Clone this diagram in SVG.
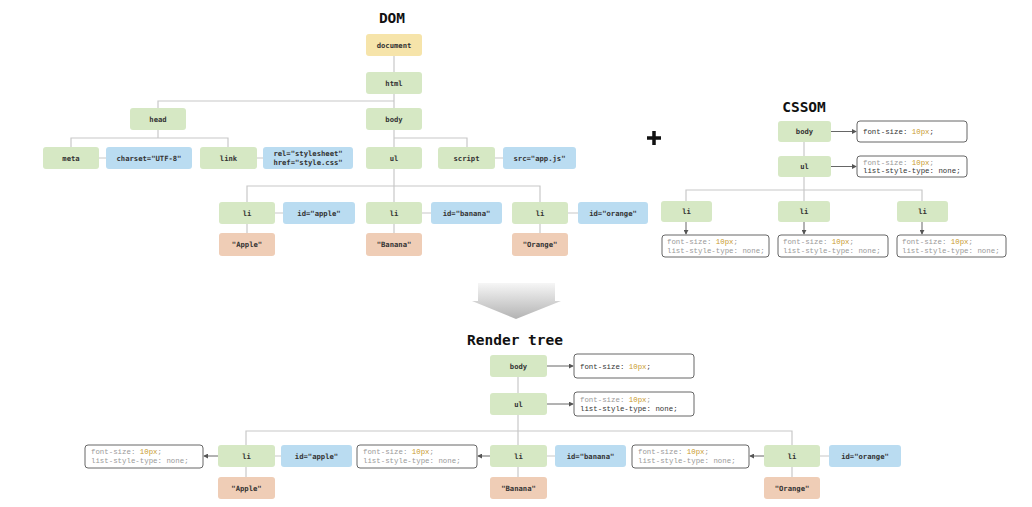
<svg xmlns="http://www.w3.org/2000/svg" width="1032" height="507" viewBox="0 0 1032 507">
<defs>
<style>
.g{fill:#d6e8c4}
.b{fill:#badcf1}
.y{fill:#f6e4aa}
.p{fill:#efcdb6}
.t{font-family:"DejaVu Sans Mono","Liberation Mono",monospace;font-size:7.2px;font-weight:bold;fill:#333;text-anchor:middle}
.h{font-family:"DejaVu Sans Mono","Liberation Mono",monospace;font-size:14.5px;font-weight:bold;fill:#111;text-anchor:middle}
.bx{fill:#fff;stroke:#666;stroke-width:1}
.s{font-family:"Liberation Mono","DejaVu Sans Mono",monospace;font-size:7.4px;fill:#333}
.l{fill:#999}
.v{fill:#c99a2e}
.c{stroke:#c8c8c8;stroke-width:1.2;fill:none}
.a{stroke:#666;stroke-width:1;fill:none;marker-end:url(#arr)}
</style>
<marker id="arr" viewBox="0 0 6 6" refX="5" refY="3" markerWidth="5" markerHeight="5" orient="auto" markerUnits="userSpaceOnUse">
<path d="M0,0 L6,3 L0,6 Z" fill="#555"/>
</marker>
<linearGradient id="grad" x1="0" y1="0" x2="0" y2="1">
<stop offset="0" stop-color="#f6f6f6"/>
<stop offset="1" stop-color="#b3b3b3"/>
</linearGradient>
</defs>
<rect width="1032" height="507" fill="#fff"/>

<!-- Titles -->
<text class="h" x="392" y="23">DOM</text>
<text class="h" x="804" y="112">CSSOM</text>
<text class="h" x="515" y="345">Render tree</text>
<path d="M654,131 V145 M647,138 H661" stroke="#111" stroke-width="3.5"/>
<path d="M478,283 H555 V301 H561 L516,319 L472,301 H478 Z" fill="url(#grad)"/>

<g id="connectors">
<!-- DOM -->
<path class="c" d="M394,56 V72 M394,94 V108 M394,101 H158 V108"/>
<path class="c" d="M158,130 V138 M71,147 V138 H228 V147 M99,158 H106 M257,158 H263"/>
<path class="c" d="M394,130 V147 M394,138 H467 V147 M495,158 H503"/>
<path class="c" d="M394,169 V202 M247,202 V186 H540 V202"/>
<path class="c" d="M275,213 H283 M422,213 H431 M568,213 H578"/>
<path class="c" d="M247,224 V233 M394,224 V233 M540,224 V233"/>
<!-- CSSOM -->
<path class="c" d="M804,142 V156 M804,177 V201 M686,201 V190 H922 V201"/>
<line class="a" x1="831" y1="131.5" x2="856" y2="131.5"/>
<line class="a" x1="831" y1="166.5" x2="856" y2="166.5"/>
<line class="a" x1="686" y1="222" x2="686" y2="234"/>
<line class="a" x1="804" y1="222" x2="804" y2="234"/>
<line class="a" x1="922" y1="222" x2="922" y2="234"/>
<!-- Render tree -->
<path class="c" d="M518,377 V393 M518,415 V445 M246,445 V431 H792 V445"/>
<line class="a" x1="547" y1="366" x2="573" y2="366"/>
<line class="a" x1="547" y1="404" x2="573" y2="404"/>
<line class="a" x1="218" y1="456" x2="204" y2="456"/>
<line class="a" x1="490" y1="456" x2="478" y2="456"/>
<line class="a" x1="764" y1="456" x2="750" y2="456"/>
<path class="c" d="M275,456 H281 M547,456 H555 M820,456 H829"/>
<path class="c" d="M246,467 V477 M518,467 V477 M792,467 V477"/>
</g>

<!-- DOM nodes -->
<g id="dom-document"><rect class="y" x="366" y="34" width="56" height="22" rx="3"/><text class="t" x="394" y="47.5">document</text></g>
<g id="dom-html"><rect class="g" x="366" y="72" width="56" height="22" rx="3"/><text class="t" x="394" y="85.5">html</text></g>
<g id="dom-head"><rect class="g" x="130" y="108" width="56" height="22" rx="3"/><text class="t" x="158" y="121.5">head</text></g>
<g id="dom-body"><rect class="g" x="366" y="108" width="56" height="22" rx="3"/><text class="t" x="394" y="121.5">body</text></g>
<g id="dom-meta"><rect class="g" x="43" y="147" width="56" height="22" rx="3"/><text class="t" x="71" y="160.5">meta</text></g>
<g id="dom-charset"><rect class="b" x="106" y="147" width="86" height="22" rx="3"/><text class="t" x="149" y="160.5">charset="UTF-8"</text></g>
<g id="dom-link"><rect class="g" x="200" y="147" width="57" height="22" rx="3"/><text class="t" x="228.5" y="160.5">link</text></g>
<g id="dom-link-attr"><rect class="b" x="263" y="147" width="90" height="22" rx="3"/><text class="t" x="308" y="156">rel="stylesheet"</text><text class="t" x="308" y="164.5">href="style.css"</text></g>
<g id="dom-ul"><rect class="g" x="366" y="147" width="56" height="22" rx="3"/><text class="t" x="394" y="160.5">ul</text></g>
<g id="dom-script"><rect class="g" x="438" y="147" width="57" height="22" rx="3"/><text class="t" x="466.5" y="160.5">script</text></g>
<g id="dom-src"><rect class="b" x="503" y="147" width="73" height="22" rx="3"/><text class="t" x="539.5" y="160.5">src="app.js"</text></g>
<g id="dom-li1"><rect class="g" x="219" y="202" width="56" height="22" rx="3"/><text class="t" x="247" y="215.5">li</text></g>
<g id="dom-id-apple"><rect class="b" x="283" y="202" width="72" height="22" rx="3"/><text class="t" x="319" y="215.5">id="apple"</text></g>
<g id="dom-apple"><rect class="p" x="219" y="233" width="56" height="23" rx="3"/><text class="t" x="247" y="247">"Apple"</text></g>
<g id="dom-li2"><rect class="g" x="366" y="202" width="56" height="22" rx="3"/><text class="t" x="394" y="215.5">li</text></g>
<g id="dom-id-banana"><rect class="b" x="431" y="202" width="71" height="22" rx="3"/><text class="t" x="466.5" y="215.5">id="banana"</text></g>
<g id="dom-banana"><rect class="p" x="366" y="233" width="56" height="23" rx="3"/><text class="t" x="394" y="247">"Banana"</text></g>
<g id="dom-li3"><rect class="g" x="512" y="202" width="56" height="22" rx="3"/><text class="t" x="540" y="215.5">li</text></g>
<g id="dom-id-orange"><rect class="b" x="578" y="202" width="70" height="22" rx="3"/><text class="t" x="613" y="215.5">id="orange"</text></g>
<g id="dom-orange"><rect class="p" x="512" y="233" width="56" height="23" rx="3"/><text class="t" x="540" y="247">"Orange"</text></g>

<!-- CSSOM nodes -->
<g id="css-body"><rect class="g" x="778" y="121" width="53" height="21" rx="3"/><text class="t" x="804.5" y="134">body</text></g>
<g id="css-body-style"><rect class="bx" x="857" y="121" width="110" height="21" rx="3"/><text class="s" x="863" y="134">font-size: <tspan class="v">10px</tspan>;</text></g>
<g id="css-ul"><rect class="g" x="778" y="156" width="53" height="21" rx="3"/><text class="t" x="804.5" y="169">ul</text></g>
<g id="css-ul-style"><rect class="bx" x="857" y="156" width="110" height="21" rx="3"/><text class="s" x="863" y="164.5"><tspan class="l">font-size: </tspan><tspan class="v">10px</tspan><tspan class="l">;</tspan></text><text class="s" x="863" y="173">list-style-type: none;</text></g>
<g id="css-li1"><rect class="g" x="661" y="201" width="51" height="21" rx="3"/><text class="t" x="686.5" y="214">li</text></g>
<g id="css-li1-style"><rect class="bx" x="662" y="235" width="107" height="22" rx="3"/><text class="s" x="667" y="244"><tspan class="l">font-size: </tspan><tspan class="v">10px</tspan><tspan class="l">;</tspan></text><text class="s l" x="667" y="252.5">list-style-type: none;</text></g>
<g id="css-li2"><rect class="g" x="778" y="201" width="52" height="21" rx="3"/><text class="t" x="804" y="214">li</text></g>
<g id="css-li2-style"><rect class="bx" x="778" y="235" width="110" height="22" rx="3"/><text class="s" x="783" y="244"><tspan class="l">font-size: </tspan><tspan class="v">10px</tspan><tspan class="l">;</tspan></text><text class="s l" x="783" y="252.5">list-style-type: none;</text></g>
<g id="css-li3"><rect class="g" x="897" y="201" width="51" height="21" rx="3"/><text class="t" x="922.5" y="214">li</text></g>
<g id="css-li3-style"><rect class="bx" x="897" y="235" width="109" height="22" rx="3"/><text class="s" x="902" y="244"><tspan class="l">font-size: </tspan><tspan class="v">10px</tspan><tspan class="l">;</tspan></text><text class="s l" x="902" y="252.5">list-style-type: none;</text></g>

<!-- Render tree nodes -->
<g id="rt-body"><rect class="g" x="490" y="355" width="57" height="22" rx="3"/><text class="t" x="518.5" y="368.5">body</text></g>
<g id="rt-body-style"><rect class="bx" x="574" y="354" width="120" height="24" rx="3"/><text class="s" x="580" y="368.5">font-size: <tspan class="v">10px</tspan>;</text></g>
<g id="rt-ul"><rect class="g" x="490" y="393" width="57" height="22" rx="3"/><text class="t" x="518.5" y="406.5">ul</text></g>
<g id="rt-ul-style"><rect class="bx" x="574" y="392" width="120" height="24" rx="3"/><text class="s" x="580" y="401.5"><tspan class="l">font-size: </tspan><tspan class="v">10px</tspan><tspan class="l">;</tspan></text><text class="s" x="580" y="410.5">list-style-type: none;</text></g>
<g id="rt-li1"><rect class="g" x="218" y="445" width="57" height="22" rx="3"/><text class="t" x="246.5" y="458.5">li</text></g>
<g id="rt-li1-style"><rect class="bx" x="85" y="445" width="118" height="23" rx="3"/><text class="s" x="91" y="454"><tspan class="l">font-size: </tspan><tspan class="v">10px</tspan><tspan class="l">;</tspan></text><text class="s l" x="91" y="463">list-style-type: none;</text></g>
<g id="rt-id-apple"><rect class="b" x="281" y="445" width="71" height="22" rx="3"/><text class="t" x="316.5" y="458.5">id="apple"</text></g>
<g id="rt-apple"><rect class="p" x="218" y="477" width="57" height="22" rx="3"/><text class="t" x="246.5" y="490.5">"Apple"</text></g>
<g id="rt-li2"><rect class="g" x="490" y="445" width="57" height="22" rx="3"/><text class="t" x="518.5" y="458.5">li</text></g>
<g id="rt-li2-style"><rect class="bx" x="357" y="445" width="120" height="23" rx="3"/><text class="s" x="363" y="454"><tspan class="l">font-size: </tspan><tspan class="v">10px</tspan><tspan class="l">;</tspan></text><text class="s l" x="363" y="463">list-style-type: none;</text></g>
<g id="rt-id-banana"><rect class="b" x="555" y="445" width="71" height="22" rx="3"/><text class="t" x="590.5" y="458.5">id="banana"</text></g>
<g id="rt-banana"><rect class="p" x="490" y="477" width="57" height="22" rx="3"/><text class="t" x="518.5" y="490.5">"Banana"</text></g>
<g id="rt-li3"><rect class="g" x="764" y="445" width="56" height="22" rx="3"/><text class="t" x="792" y="458.5">li</text></g>
<g id="rt-li3-style"><rect class="bx" x="632" y="445" width="117" height="23" rx="3"/><text class="s" x="638" y="454"><tspan class="l">font-size: </tspan><tspan class="v">10px</tspan><tspan class="l">;</tspan></text><text class="s l" x="638" y="463">list-style-type: none;</text></g>
<g id="rt-id-orange"><rect class="b" x="829" y="445" width="72" height="22" rx="3"/><text class="t" x="865" y="458.5">id="orange"</text></g>
<g id="rt-orange"><rect class="p" x="764" y="477" width="56" height="22" rx="3"/><text class="t" x="792" y="490.5">"Orange"</text></g>
</svg>
